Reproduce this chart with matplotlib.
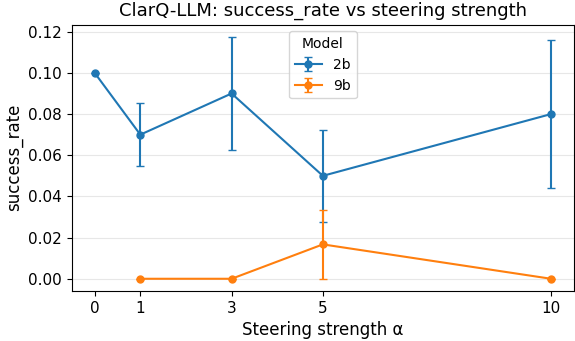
import matplotlib
matplotlib.use("Agg")
import matplotlib.pyplot as plt

# steering strengths and results per model
alphas_2b = [0, 1, 3, 5, 10]
rate_2b = [0.10, 0.07, 0.09, 0.05, 0.08]
err_2b = [0.0, 0.0153, 0.0276, 0.0225, 0.036]

alphas_9b = [1, 3, 5, 10]
rate_9b = [0.0, 0.0, 0.0167, 0.0]
err_9b = [0.0, 0.0, 0.0167, 0.0]

xticks = [0, 1, 3, 5, 10]

fig, ax = plt.subplots(figsize=(5.75, 3.41), dpi=100)

ax.errorbar(alphas_2b, rate_2b, yerr=err_2b, marker='o', markersize=5, capsize=3,
            linewidth=1.5, color='#1f77b4', label='2b')
ax.errorbar(alphas_9b, rate_9b, yerr=err_9b, marker='o', markersize=5, capsize=3,
            linewidth=1.5, color='#ff7f0e', label='9b')

ax.set_xticks(xticks)
ax.set_xlim(-0.5, 10.5)
ax.grid(True, axis='y', color='#dddddd', alpha=0.7)
ax.set_axisbelow(True)

ax.set_title("ClarQ-LLM: success_rate vs steering strength", fontsize=13)
ax.set_xlabel("Steering strength α", fontsize=12)
ax.set_ylabel("success_rate", fontsize=12)
ax.tick_params(labelsize=11)
ax.legend(title="Model", loc='upper center', fontsize=10, title_fontsize=10)

fig.subplots_adjust(left=0.125, right=0.998, top=0.928, bottom=0.147)
fig.savefig("out.png", dpi=100)
